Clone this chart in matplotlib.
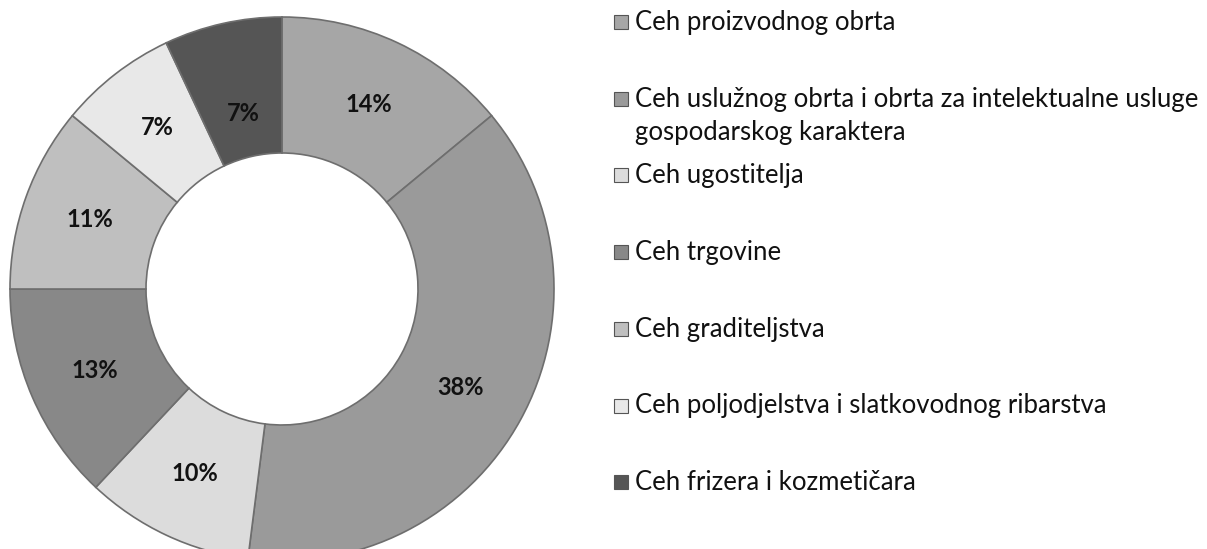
"""Donut chart — share of members per guild (ceh)."""

import numpy as np
import matplotlib
matplotlib.use("Agg")
import matplotlib.pyplot as plt
from matplotlib.patches import Rectangle

# Data, clockwise from 12 o'clock
categories = [
    "Ceh proizvodnog obrta",
    "Ceh uslužnog obrta i obrta za intelektualne usluge\ngospodarskog karaktera",
    "Ceh ugostitelja",
    "Ceh trgovine",
    "Ceh graditeljstva",
    "Ceh poljodjelstva i slatkovodnog ribarstva",
    "Ceh frizera i kozmetičara",
]
shares = [14, 38, 10, 13, 11, 7, 7]
colors = ["#a6a6a6", "#9a9a9a", "#dcdcdc", "#888888", "#bfbfbf", "#e8e8e8", "#555555"]

plt.rcParams["font.family"] = ["Lato", "DejaVu Sans"]

fig = plt.figure(figsize=(12.07, 5.49), dpi=100)
ax = fig.add_axes([10 / 1207, -12 / 549, 544 / 1207, 544 / 549])

wedges, _, autotexts = ax.pie(
    shares,
    colors=colors,
    startangle=90,
    counterclock=False,
    radius=1.0,
    autopct="%d%%",
    pctdistance=0.75,
    wedgeprops=dict(width=0.5, edgecolor="#6e6e6e", linewidth=1.2),
    textprops=dict(fontsize=17, fontweight="bold", color="#111111"),
)

# the last label sits a bit closer to the hole in the original
w = wedges[-1]
mid = np.deg2rad((w.theta1 + w.theta2) / 2)
autotexts[-1].set_position((0.66 * np.cos(mid), 0.66 * np.sin(mid)))

ax.set_xlim(-1.0, 1.0)
ax.set_ylim(-1.0, 1.0)
ax.set_aspect("equal")
ax.axis("off")

# Legend: evenly spaced entries, wrapped label hangs below its marker
W, H = 1207, 549
y0, step = 22, 76.7
for i, (lab, col) in enumerate(zip(categories, colors)):
    yc = y0 + i * step
    fig.patches.append(Rectangle((614 / W, 1 - (yc + 7) / H), 14 / W, 14 / H,
                                 transform=fig.transFigure, facecolor=col,
                                 edgecolor="#555555", linewidth=0.8))
    fig.text(635 / W, 1 - (yc - 12) / H, lab, fontsize=18.5, va="top", ha="left",
             color="#111111", linespacing=1.42)

fig.savefig("out.png", dpi=100)
